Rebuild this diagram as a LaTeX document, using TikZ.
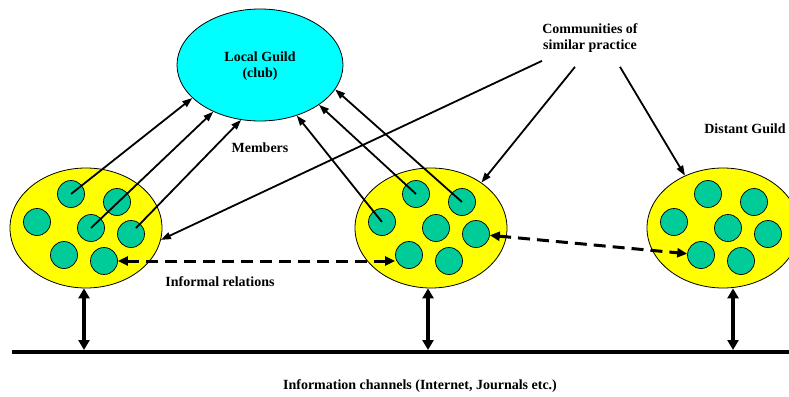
\documentclass[tikz,border=0pt]{standalone}
\usepackage{fontspec}
\setmainfont{Liberation Serif}
\usetikzlibrary{arrows.meta,shapes.geometric,calc}
\definecolor{guildcyan}{RGB}{0,255,255}
\definecolor{groupyellow}{RGB}{255,255,0}
\definecolor{membergreen}{RGB}{0,204,153}
\tikzset{
  lbl/.style={font=\fontsize{14}{16.5}\selectfont\bfseries, align=center, inner sep=0pt},
  guild/.style={ellipse, draw, line width=0.8pt, fill=guildcyan, minimum width=166pt, minimum height=112pt, inner sep=0pt},
  group/.style={ellipse, draw, line width=0.8pt, fill=groupyellow, minimum width=152pt, minimum height=120pt, inner sep=0pt},
  member/.style={circle, draw, line width=0.7pt, fill=membergreen, minimum size=27pt, inner sep=0pt},
  link/.style={line width=1.8pt, -{Triangle[length=10pt,width=7pt]}},
  informal/.style={line width=3pt, dash pattern=on 12pt off 7pt, {Triangle[length=10pt,width=9pt]}-{Triangle[length=10pt,width=9pt]}},
  channel/.style={line width=3.2pt, {Triangle[length=10pt,width=11pt]}-{Triangle[length=10pt,width=11pt]}},
}
\begin{document}
\begin{tikzpicture}[x=1pt,y=-1pt]
\path[use as bounding box] (0,0) rectangle (789,396);
\clip (0,0) rectangle (789,396);

% the local guild
\node[guild] (LG) at (260,65) {};
\node[lbl] (lgtext) at (260,66) {Local Guild\\(club)};

% three groups of members
\node[group] (GL) at (86,228) {};
\node[group] (GM) at (431,228) {};
\node[group] (GR) at (723,228) {};

\foreach \g/\cx in {l/0, m/345, r/637}{
  \node[member] (\g1) at ({71+\cx},194) {};
  \node[member] (\g2) at ({117+\cx},202) {};
  \node[member] (\g3) at ({37+\cx},222) {};
  \node[member] (\g4) at ({91+\cx},228) {};
  \node[member] (\g5) at ({131+\cx},234) {};
  \node[member] (\g6) at ({64+\cx},255) {};
  \node[member] (\g7) at ({104+\cx},261) {};
}

% labels
\node[lbl] (members) at (260,148) {Members};
\node[lbl] (CP) at (590,38) {Communities of\\similar practice};
\node[lbl] (distant) at (745,129) {Distant Guild};
\node[lbl] (informal) at (220,282) {Informal relations};
\node[lbl] (channels) at (420,386) {Information channels (Internet, Journals etc.)};

% members belonging to the local guild
\draw[link] (l1.center) -- (LG.206);
\draw[link] (l4.center) -- (LG.225);
\draw[link] ($(l5.center)+(5,-6)$) -- (LG.251);
\draw[link] (m3.center) -- (LG.306);
\draw[link] (m1.center) -- (LG.326);
\draw[link] (m2.center) -- (LG.342);

% communities of similar practice
\coordinate (c1) at ($(CP.south)+(-48,8)$);
\coordinate (c2) at ($(CP.south)+(-15,14)$);
\coordinate (c3) at ($(CP.south)+(30,14)$);
\draw[link] (c1) -- (GL.351);
\draw[link] (c2) -- (GM.42);
\draw[link] (c3) -- (GR.126);

% informal relations between members
\draw[informal] (l7.east) -- (l7.east -| m6.west);
\draw[informal] (m5) -- (r6);

% information channels
\coordinate (lineL) at (12,352);
\coordinate (lineR) at (789,352);
\draw[line width=4.5pt] (lineL) -- (lineR);
\draw[channel] ($(GL.south)+(-2,0)$) -- ($(GL.south |- lineL)+(-2,-2)$);
\draw[channel] ($(GM.south)+(-3,0)$) -- ($(GM.south |- lineL)+(-3,-2)$);
\draw[channel] ($(GR.south)+(10,0)$) -- ($(GR.south |- lineL)+(10,-2)$);
\end{tikzpicture}
\end{document}
